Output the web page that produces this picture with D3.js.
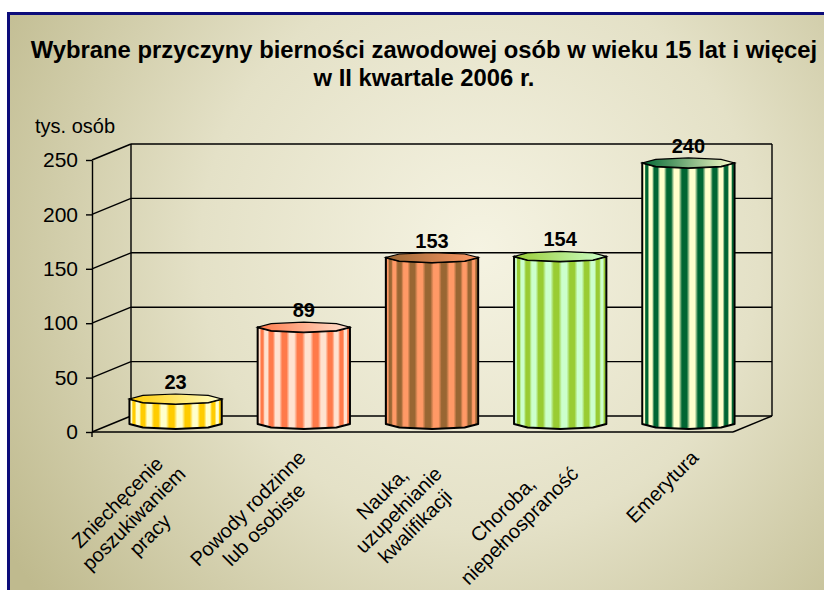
<!DOCTYPE html>
<html>
<head>
<meta charset="utf-8">
<script src="https://cdn.jsdelivr.net/npm/d3@7"></script>
<style>
  body { margin: 0; background: #fff; }
  svg { display: block; }
  text { font-family: Arial, "Liberation Sans", sans-serif; fill: #000; }
</style>
</head>
<body>
<svg id="chart"></svg>
<script>
// dane
const titleLines = ['Wybrane przyczyny bierności zawodowej osób w wieku 15 lat i więcej', 'w II kwartale 2006 r.'];
const unitLabel = 'tys. osób';
const categories = ['Zniechęcenie poszukiwaniem pracy', 'Powody rodzinne lub osobiste', 'Nauka, uzupełnianie kwalifikacji', 'Choroba, niepełnospraność', 'Emerytura'];
const categoryLines = [['Zniechęcenie', 'poszukiwaniem', 'pracy'], ['Powody rodzinne', 'lub osobiste'], ['Nauka,', 'uzupełnianie', 'kwalifikacji'], ['Choroba,', 'niepełnospraność'], ['Emerytura']];
const values = [23, 89, 153, 154, 240];
const yTicks = [0, 50, 100, 150, 200, 250];
const stripeDark = ['#ffcc00', '#ff7a4a', '#996633', '#99cc33', '#006633'];
const stripeLight = ['#ffffcc', '#ffe2d0', '#ff9966', '#ccffcc', '#ffffcc'];

const w = 824, h = 590;
const left = 92, right = 733;      // przednia krawedz wykresu
const depthX = 39, depthY = -16;   // glebokosc 3D

const svg = d3.select('#chart').attr('width', w).attr('height', h);
const defs = svg.append('defs');

const bg = defs.append('radialGradient').attr('id', 'bg')
  .attr('gradientUnits', 'userSpaceOnUse')
  .attr('cx', 480).attr('cy', 250).attr('r', 560);
bg.append('stop').attr('offset', 0).attr('stop-color', '#f5f3e2');
bg.append('stop').attr('offset', 0.5).attr('stop-color', '#e4e1c7');
bg.append('stop').attr('offset', 1).attr('stop-color', '#bfba8e');

svg.append('rect')
  .attr('x', 8.5).attr('y', 13.5).attr('width', 840).attr('height', 600)
  .attr('fill', 'url(#bg)')
  .attr('stroke', '#0c0c7a').attr('stroke-width', 3);

// tytul
svg.selectAll('text.title')
  .data(titleLines)
  .enter()
  .append('text')
  .attr('class', 'title')
  .attr('x', 424)
  .attr('y', (d, i) => 58 + i * 28)
  .attr('text-anchor', 'middle')
  .style('font-size', '23.8px')
  .style('font-weight', 'bold')
  .text(d => d);

svg.append('text')
  .attr('x', 35).attr('y', 133)
  .style('font-size', '20px')
  .text(unitLabel);

const y = d3.scaleLinear().domain([0, 250]).range([432, 160]);
const x = d3.scaleBand().domain(categories).range([left, right])
  .paddingInner(0.28).paddingOuter(0.14);

const lines = svg.append('g')
  .attr('stroke', '#000').attr('stroke-width', 1.4).attr('fill', 'none');

// siatka na tylnej scianie i na bocznej
yTicks.forEach(t => {
  lines.append('line')
    .attr('x1', left + depthX).attr('x2', right + depthX)
    .attr('y1', y(t) + depthY).attr('y2', y(t) + depthY);
  lines.append('line')
    .attr('x1', left).attr('x2', left + depthX)
    .attr('y1', y(t)).attr('y2', y(t) + depthY);
});
lines.append('line')
  .attr('x1', left + depthX).attr('x2', left + depthX)
  .attr('y1', y(250) + depthY).attr('y2', y(0) + depthY);
lines.append('line')
  .attr('x1', right + depthX).attr('x2', right + depthX)
  .attr('y1', y(250) + depthY).attr('y2', y(0) + depthY);
// podloga
lines.append('line')
  .attr('x1', left).attr('x2', right)
  .attr('y1', y(0)).attr('y2', y(0));
lines.append('line')
  .attr('x1', right).attr('x2', right + depthX)
  .attr('y1', y(0)).attr('y2', y(0) + depthY);
lines.append('line')
  .attr('x1', left).attr('x2', left)
  .attr('y1', y(0)).attr('y2', y(0) + 5);

const ejeY = d3.axisLeft(y).tickValues(yTicks).tickSize(6).tickSizeOuter(0).tickPadding(8);
const gy = svg.append('g')
  .attr('transform', 'translate(' + left + ', 0)')
  .call(ejeY);
gy.select('.domain').attr('stroke', '#000').attr('stroke-width', 1.4);
gy.selectAll('.tick line').attr('stroke', '#000').attr('stroke-width', 1.4);
gy.selectAll('.tick text')
  .style('font-size', '21px')
  .style('font-family', 'Arial, "Liberation Sans", sans-serif')
  .attr('fill', '#000');

// gradienty paskow
const facets = 18;
values.forEach((v, i) => {
  const g = defs.append('linearGradient').attr('id', 'stripe' + i)
    .attr('x1', 0).attr('x2', 1).attr('y1', 0).attr('y2', 0);
  const mid = d3.interpolateRgb(stripeDark[i], stripeLight[i])(0.5);
  for (let k = 0; k < facets; k++) {
    const s = 0.5 - 0.5 * Math.cos(Math.PI * k / facets);
    const e = 0.5 - 0.5 * Math.cos(Math.PI * (k + 1) / facets);
    const c = k % 2 ? stripeLight[i] : stripeDark[i];
    g.append('stop').attr('offset', s).attr('stop-color', mid);
    g.append('stop').attr('offset', s + (e - s) * 0.2).attr('stop-color', c);
    g.append('stop').attr('offset', e - (e - s) * 0.2).attr('stop-color', c);
    g.append('stop').attr('offset', e).attr('stop-color', mid);
  }
  const tg = defs.append('linearGradient').attr('id', 'top' + i)
    .attr('x1', 0).attr('x2', 1).attr('y1', 0).attr('y2', 0);
  tg.append('stop').attr('offset', 0).attr('stop-color', stripeDark[i]);
  tg.append('stop').attr('offset', 1).attr('stop-color', stripeLight[i]);
});

const ry = 5;
const seg = 4;
function arc(cx, rx, cy, from, to) {
  const pts = [];
  for (let k = 0; k <= seg; k++) {
    const a = from + (to - from) * k / seg;
    pts.push([cx + rx * Math.cos(a), cy + ry * Math.sin(a)]);
  }
  return pts;
}

const bars = svg.selectAll('g.bar')
  .data(values)
  .enter()
  .append('g')
  .attr('class', 'bar');

bars.append('path')
  .attr('d', (d, i) => {
    const x0 = x(categories[i]) + depthX / 2;
    const rx = x.bandwidth() / 2;
    const cx = x0 + rx;
    const yt = y(d) + depthY / 2;
    const yb = y(0) + depthY / 2;
    const pts = [[x0, yt]].concat(arc(cx, rx, yb, Math.PI, 0), arc(cx, rx, yt, 0, Math.PI));
    return 'M' + pts.map(p => p.join(',')).join('L') + 'Z';
  })
  .attr('fill', (d, i) => 'url(#stripe' + i + ')')
  .attr('stroke', '#000')
  .attr('stroke-width', 2)
  .attr('stroke-linejoin', 'round');

bars.append('path')
  .attr('d', (d, i) => {
    const x0 = x(categories[i]) + depthX / 2;
    const rx = x.bandwidth() / 2;
    const cx = x0 + rx;
    const yt = y(d) + depthY / 2;
    const pts = arc(cx, rx, yt, 0, Math.PI).concat(arc(cx, rx, yt, Math.PI, 2 * Math.PI));
    return 'M' + pts.map(p => p.join(',')).join('L') + 'Z';
  })
  .attr('fill', (d, i) => 'url(#top' + i + ')')
  .attr('stroke', '#000')
  .attr('stroke-width', 1.2);

bars.append('text')
  .attr('x', (d, i) => x(categories[i]) + depthX / 2 + x.bandwidth() / 2)
  .attr('y', d => y(d) + depthY / 2 - 10)
  .attr('text-anchor', 'middle')
  .style('font-size', '20px')
  .style('font-weight', 'bold')
  .text(d => d);

// etykiety kategorii (obrot -45)
const lineH = 23;
categoryLines.forEach((ls, i) => {
  const g = svg.append('g');
  const texts = ls.map((s, j) => g.append('text')
    .attr('y', j * lineH + 14)
    .attr('text-anchor', 'middle')
    .style('font-size', '20px')
    .text(s));
  const wMax = d3.max(texts, t => t.node().getComputedTextLength());
  texts.forEach(t => t.attr('x', -wMax / 2));
  const blockH = ls.length * lineH;
  const tick = x(categories[i]) + x.bandwidth() / 2;
  g.attr('transform', 'translate(' + (tick + 29 - 0.354 * blockH) + ',449) rotate(-45)');
});
</script>
</body>
</html>
